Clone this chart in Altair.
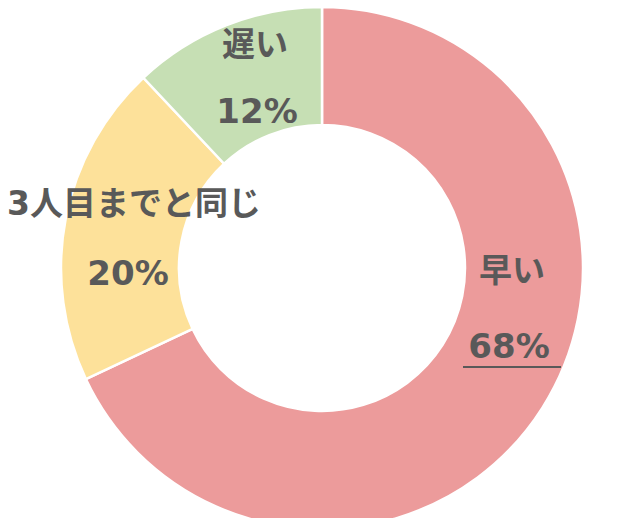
import altair as alt
import pandas as pd

categories = ["早い", "3人目までと同じ", "遅い"]
values = [68, 20, 12]
percent_labels = ["68%", "20%", "12%"]
colors = ["#EC9B9B", "#FDE19A", "#C6DFB4"]

df = pd.DataFrame({"cat": categories, "val": values, "order": [0, 1, 2], "pct": percent_labels})

CX, CY = 314, 260
W, H = 624, 510

arc = alt.Chart(df).mark_arc(innerRadius=143, outerRadius=261, stroke="white", strokeWidth=2.5).encode(
    theta=alt.Theta("val:Q", stack=True),
    order=alt.Order("order:Q"),
    color=alt.Color("cat:N", scale=alt.Scale(domain=categories, range=colors), legend=None),
    x=alt.value(CX),
    y=alt.value(CY),
)

font = "DejaVu Sans, Noto Sans CJK JP"
tc = "#595959"

# label layout (page coords minus 8px margin)
name_pos = {"早い": (504, 264), "3人目までと同じ": (126, 197), "遅い": (247, 38)}
pct_pos = {"68%": (501, 340), "20%": (120, 267), "12%": (249, 105)}

layers = [arc]
for c, p in zip(categories, percent_labels):
    nx, ny = name_pos[c]
    px, py = pct_pos[p]
    layers.append(
        alt.Chart(df).transform_filter(alt.datum.cat == c).mark_text(
            font=font, fontSize=33, fontWeight="bold", color=tc, baseline="middle", align="center"
        ).encode(text="cat:N", x=alt.value(nx), y=alt.value(ny))
    )
    layers.append(
        alt.Chart(df).transform_filter(alt.datum.cat == c).mark_text(
            font=font, fontSize=34, fontWeight="bold", color=tc, baseline="middle", align="center"
        ).encode(text="pct:N", x=alt.value(px), y=alt.value(py))
    )

underline = alt.Chart(df).transform_filter(alt.datum.cat == "早い").mark_rule(color=tc, strokeWidth=2).encode(
    x=alt.value(455), x2=alt.value(553), y=alt.value(359)
)
layers.append(underline)

chart = alt.layer(*layers).properties(
    width=W, height=H, padding=0, autosize=alt.AutoSizeParams(type="none")
).configure_view(stroke=None)

chart.save("out.html", embed_options={"renderer": "svg", "actions": False})
